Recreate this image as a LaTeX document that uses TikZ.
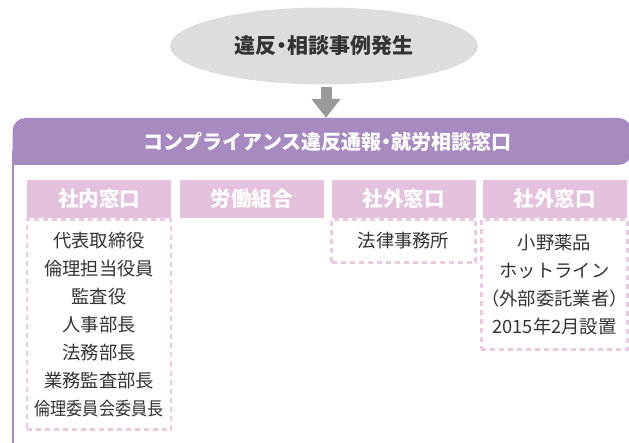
\documentclass[tikz,border=0pt]{standalone}
\usepackage{fontspec}
\newfontfamily\jp{Noto Sans CJK JP}
\usetikzlibrary{shapes.geometric,arrows.meta}
\definecolor{evgray}{HTML}{DCDDDD}
\definecolor{arrgray}{HTML}{9A9A9A}
\definecolor{barpurple}{HTML}{A78BC0}
\definecolor{hdrpink}{HTML}{E4C1DC}
\definecolor{dashpink}{HTML}{EBC9E4}
\definecolor{txt}{HTML}{333333}
\newcommand{\nakaguro}{\makebox[0.5em]{・}}
\tikzset{
  evt/.style={ellipse, fill=evgray, minimum width=308pt, minimum height=77pt, inner sep=0pt,
    font=\jp\bfseries\fontsize{21}{24}\selectfont, text=txt},
  barbox/.style={rectangle, fill=barpurple, rounded corners=13pt, minimum width=619pt, minimum height=47pt,
    inner sep=0pt, font=\jp\bfseries\fontsize{20}{23}\selectfont, text=white},
  hdr/.style={rectangle, fill=hdrpink, minimum width=144pt, minimum height=38pt, inner sep=0pt,
    font=\jp\bfseries\fontsize{20.5}{23}\selectfont, text=white},
  bodybox/.style={rectangle, draw=dashpink, line width=2.6pt, dash pattern=on 5pt off 4pt,
    minimum width=144pt, inner sep=0pt, anchor=north, align=center,
    font=\jp\fontsize{18.3}{28}\selectfont, text=txt},
  bigarrow/.style={draw=arrgray, line width=11pt, -{Triangle[width=28pt,length=19pt]}, shorten <=2pt}
}
\begin{document}
\begin{tikzpicture}[x=1pt,y=-1pt]
\useasboundingbox (0,0) rectangle (629,443);
% event ellipse
\node[evt] (ev) at (324,46) {違反\nakaguro 相談事例発生};
% purple bar
\node[barbox] (bar) at (322,141.5) {\hspace*{11pt}コンプライアンス違反通報\nakaguro 就労相談窓口};
\fill[barpurple] (12,150) rectangle (30,165);
\fill[barpurple] (11.8,160) rectangle (14.3,443);
% arrow
\draw[bigarrow] (ev.south -| 326,0) -- (bar.north -| 326,0);
% headers
\node[hdr] (h1) at (99,199) {社内窓口};
\node[hdr] (h2) at (251.5,199) {労働組合};
\node[hdr] (h3) at (403.5,199) {社外窓口};
\node[hdr] (h4) at (554.5,199) {社外窓口};
% bodies
\node[bodybox, minimum height=210pt] (b1) at (h1.south) {代表取締役\\倫理担当役員\\監査役\\人事部長\\法務部長\\業務監査部長\\\scalebox{0.88}[1]{倫理委員会委員長}};
\node[bodybox, minimum height=43pt] (b3) at (h3.south) {法律事務所};
\node[bodybox, minimum height=130pt] (b4) at (h4.south) {小野薬品\\ホットライン\\（外部委託業者）\\2015年2月設置};
\end{tikzpicture}
\end{document}
